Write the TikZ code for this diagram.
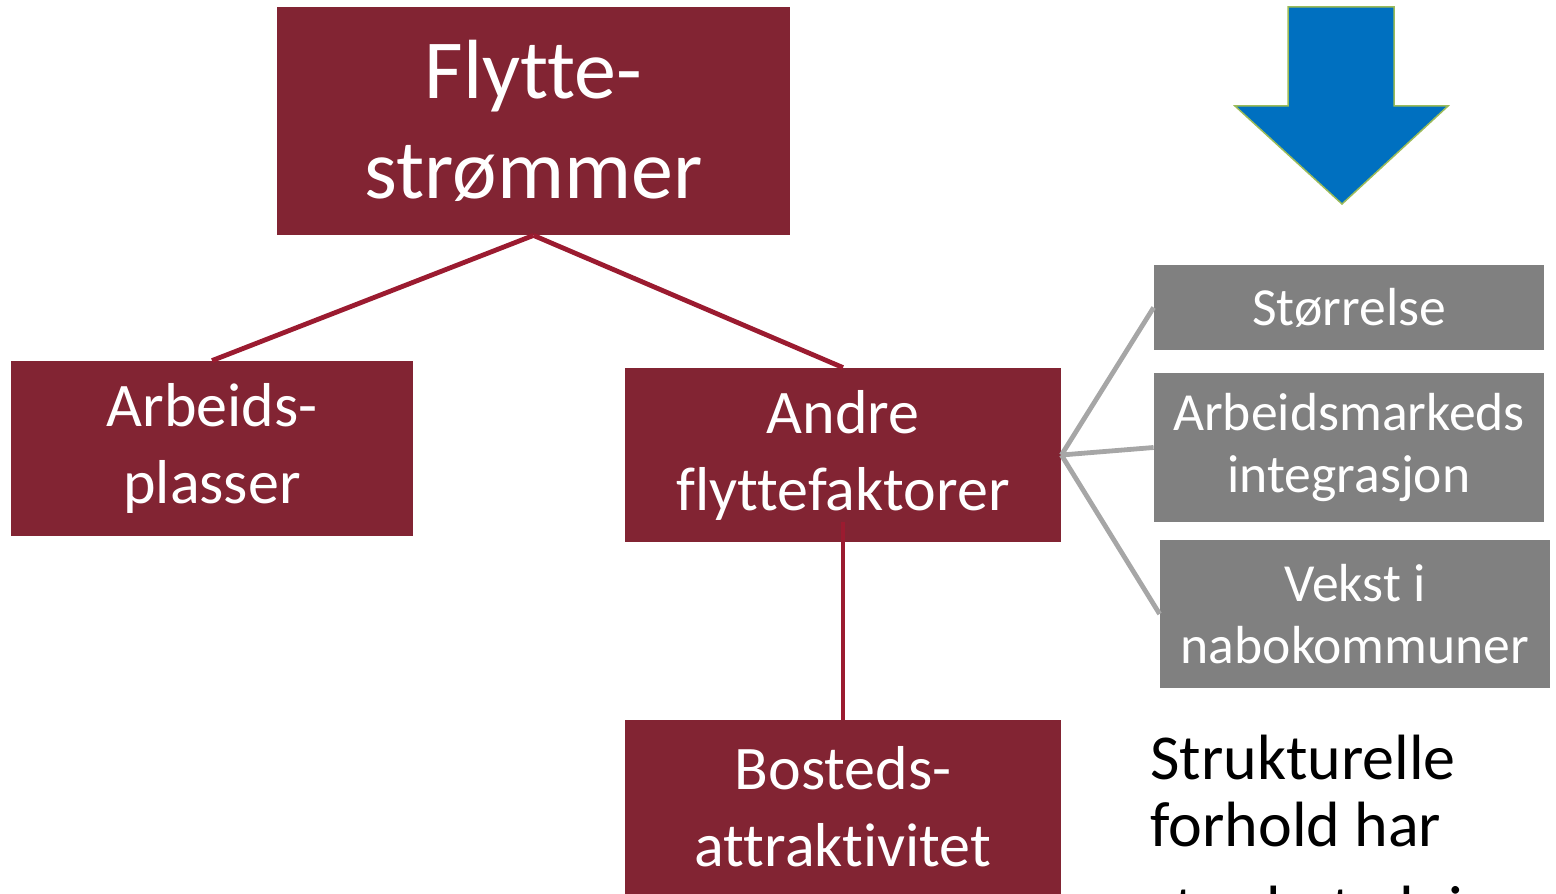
\documentclass[tikz,border=0pt]{standalone}
\usepackage{fontspec}
\setmainfont{Carlito}[Ligatures=NoCommon]
\usepackage{tikz}

\definecolor{boxred}{HTML}{822433}
\definecolor{linered}{HTML}{9B1B30}
\definecolor{boxgray}{HTML}{808080}
\definecolor{linegray}{HTML}{A6A6A6}
\definecolor{arrowblue}{HTML}{0070C0}
\definecolor{arrowgreen}{HTML}{9BBB59}

\begin{document}
\begin{tikzpicture}[x=0.5pt, y=-0.5pt,
		redbox/.style={fill=boxred, text=white, align=center, inner sep=0pt, font=\fontsize{31}{38.5}\selectfont},
		graybox/.style={fill=boxgray, text=white, align=center, inner sep=0pt, minimum width=195pt, font=\fontsize{26.8}{31}\selectfont},
		redline/.style={draw=linered, line width=2.4pt},
		grayline/.style={draw=linegray, line width=2.4pt}]
			\useasboundingbox (0, 0) rectangle (1556, 893);
			\node[redbox, minimum width=256.5pt, minimum height=114pt, font=\fontsize{42}{50}\selectfont] (flytte) at (533.5, 121) {Flytte-\\strømmer};
			\node[redbox, minimum width=201pt, minimum height=87.5pt] (arbeid) at (212, 448.5) {Arbeids-\\plasser};
			\node[redbox, minimum width=218pt, minimum height=87pt] (andre) at (843, 455) {Andre\\flyttefaktorer};
			\node[redbox, minimum width=218pt, minimum height=87pt] (bosted) at (843, 807) {Bosteds-\\attraktivitet};
			\node[graybox, minimum height=42.5pt] (storr) at (1349, 307.5) {Størrelse};
			\node[graybox, minimum height=74.5pt] (arbmark) at (1349, 447.5) {Arbeidsmarkeds\\integrasjon};
			\node[graybox, minimum height=74pt] (vekst) at (1355, 614) {Vekst i\\nabokommuner};
			\draw[redline] (flytte.south) -- (arbeid.north);
			\draw[redline] (flytte.south) -- (andre.north);
			\draw[redline] ([yshift=10pt]andre.south) -- (bosted.north);
			\draw[grayline] (andre.east) -- (storr.west);
			\draw[grayline] (andre.east) -- (arbmark.west);
			\draw[grayline] (andre.east) -- (vekst.west);
			\filldraw[fill=arrowblue, draw=arrowgreen, line width=0.75pt](1288, 7) -- (1394, 7) -- (1394, 106) -- (1448, 106) -- (1342, 204) -- (1235, 106) -- (1288, 106) -- cycle;
			\node[anchor=base west, align=left, inner sep=0pt, font=\fontsize{32}{33.5}\selectfont] (note) at (1150, 930) {Strukturelle\\forhold har\\[8.5pt]stor betydning};
		\end{tikzpicture}
\end{document}
